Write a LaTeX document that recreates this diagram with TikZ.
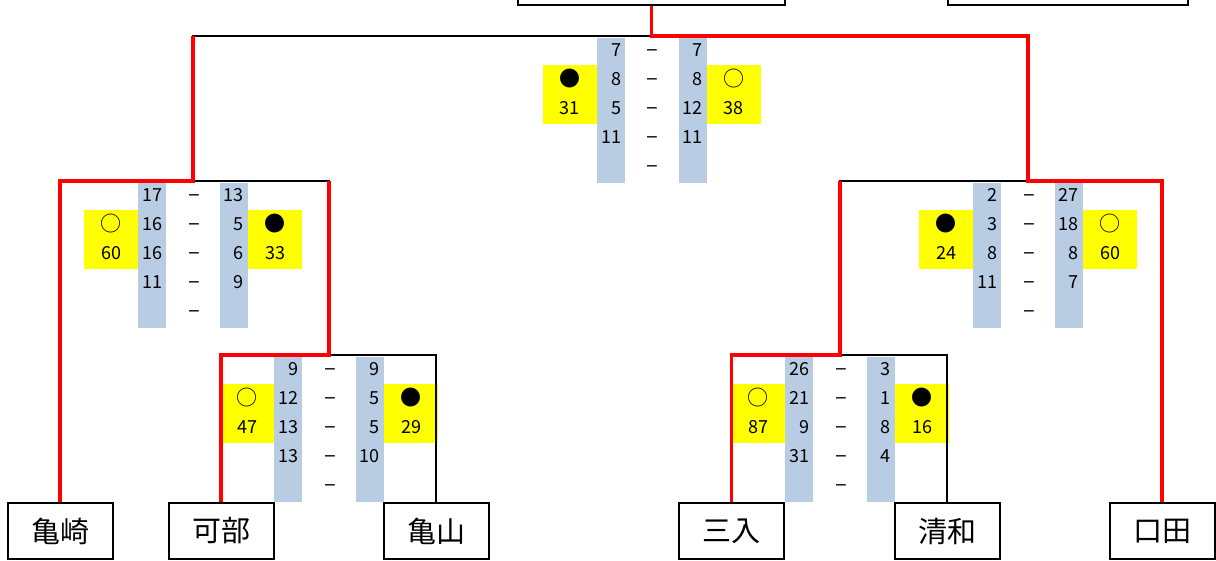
\documentclass[tikz,border=0pt]{standalone}
\usepackage{fontspec}
\setmainfont{Noto Sans CJK JP}
\usetikzlibrary{positioning}
\definecolor{bandblue}{HTML}{B8CCE4}
\definecolor{markyellow}{HTML}{FFFF00}
\tikzset{
  team/.style={
    rectangle, draw=black, line width=2pt, minimum width=105pt, minimum height=56pt,
    inner sep=0pt, font=\fontsize{29}{32}\selectfont
  },
  pts/.style={inner sep=0pt, text height=13pt, text depth=0pt, font=\fontsize{18}{20}\selectfont},
  dashmark/.style={pts, font=\fontsize{22}{24}\selectfont},
  result/.style={inner sep=0pt, font=\fontsize{21}{22}\selectfont},
  lose/.style={draw=black, line width=2.2pt},
  win/.style={draw=red, line width=3.5pt}
}
\newcommand{\scoreboard}[7]{%
  \begin{scope}[shift={(#1)}]
    \fill[bandblue] (-55,2) rectangle (-27,147);
    \fill[bandblue] (27,2) rectangle (55,147);
    \fill[markyellow] (-109,29) rectangle (-55,88);
    \fill[markyellow] (55,29) rectangle (109,88);
    \foreach \s [count=\i] in {#2}
      \node[pts, anchor=east] (#1-l\i) at (-30,{14+29*(\i-1)}) {\s};
    \foreach \s [count=\i] in {#3}
      \node[pts, anchor=east] (#1-r\i) at (51,{14+29*(\i-1)}) {\s};
    \foreach \i in {1,...,5}
      \node[dashmark] (#1-d\i) at (1,{14+29*(\i-1)}) {–};
    \node[result] (#1-lm) at (-82,43) {#4};
    \node[pts] (#1-ls) at (-82,72) {#5};
    \node[result] (#1-rm) at (82,43) {#6};
    \node[pts] (#1-rs) at (82,72) {#7};
  \end{scope}}

\begin{document}
\begin{tikzpicture}[x=1pt, y=-1pt]
\useasboundingbox (0,0) rectangle (1216,561);

\node[team, minimum width=267pt, minimum height=60pt, anchor=south] (top) at (651.5,6) {};
\node[team, minimum width=240pt, minimum height=60pt, anchor=south] (topr) at (1068,6) {};

\node[team] (kamezaki) at (60,531) {亀崎};
\node[team] (kabe) at (221,531) {可部};
\node[team] (kameyama) at (436,531) {亀山};
\node[team] (sannyu) at (731.5,531) {三入};
\node[team] (seiwa) at (947,531) {清和};
\node[team] (kuchita) at (1162,531) {口田};

\coordinate (m1) at (329,355);
\coordinate (m2) at (840,355);
\coordinate (s1) at (193,181);
\coordinate (s2) at (1028,181);
\coordinate (f) at (651.5,36);

\scoreboard{f}{7,8,5,11}{7,8,12,11}{●}{31}{○}{38}
\scoreboard{s1}{17,16,16,11}{13,5,6,9}{○}{60}{●}{33}
\scoreboard{m1}{9,12,13,13}{9,5,5,10}{○}{47}{●}{29}
\scoreboard{s2}{2,3,8,11}{27,18,8,7}{●}{24}{○}{60}
\scoreboard{m2}{26,21,9,31}{3,1,8,4}{○}{87}{●}{16}

\draw[lose] (m1) -| (kameyama.north);
\draw[lose] (m2) -| (seiwa.north);
\draw[lose] (s1) -| (m1);
\draw[lose] (s2) -| (m2);
\draw[lose] (f) -| (s1);

\draw[win] (kabe.north) |- (m1) -- (m1 |- s1);
\draw[win] (kamezaki.north) |- (s1) -- (s1 |- f);
\draw[win] (sannyu.north) |- (m2) -- (m2 |- s2);
\draw[win] (kuchita.north) |- (s2) -- (s2 |- f) -- (f) -- (top.south);
\end{tikzpicture}
\end{document}
